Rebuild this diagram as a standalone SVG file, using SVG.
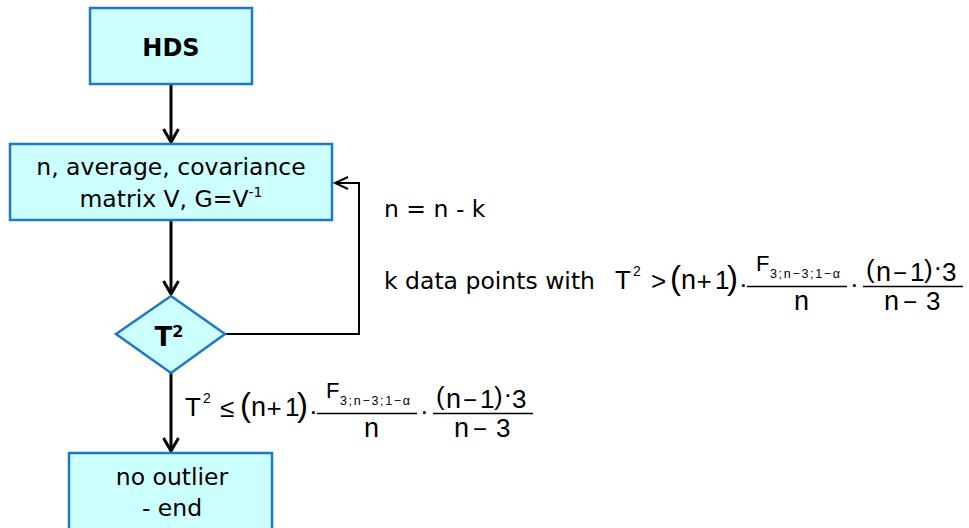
<svg xmlns="http://www.w3.org/2000/svg" width="969" height="528" viewBox="0 0 969 528">
<style>
.box{fill:#CCFFFF;stroke:#1E78C8;stroke-width:2.5}
.t{font-family:"DejaVu Sans","Verdana",sans-serif;font-size:23.5px;fill:#000}
.b{font-family:"DejaVu Sans","Verdana",sans-serif;font-size:24px;font-weight:bold;fill:#000}
.m{font-family:"Liberation Sans",Arial,sans-serif;font-size:26px;fill:#000}
.m12{font-size:12.5px}
.m14{font-size:14px}
.m22{font-size:22px}
.m24{font-size:24px}
.m27{font-size:27px}
.m33{font-size:33px}
.main{stroke:#000;stroke-width:3;fill:none}
.fb{stroke:#000;stroke-width:2;fill:none}
.bar{stroke:#000;stroke-width:1.4}
</style>
<defs>
<marker id="ah" markerUnits="userSpaceOnUse" markerWidth="20" markerHeight="20" refX="0" refY="0" viewBox="-16 -10 20 20" orient="auto">
<path d="M-13,-7.5 L0,0 L-13,7.5" fill="none" stroke="#000" stroke-width="3"/>
</marker>
<marker id="ah2" markerUnits="userSpaceOnUse" markerWidth="20" markerHeight="20" refX="0" refY="0" viewBox="-16 -10 20 20" orient="auto">
<path d="M-13,-6 L0,0 L-13,6" fill="none" stroke="#000" stroke-width="2"/>
</marker>
<g id="frac">
<text class="m" x="185" y="416">T</text>
<text class="m m14" x="203" y="403">2</text>
<text class="m m33" x="240" y="416">(</text>
<text class="m m27" x="251" y="416">n</text>
<text class="m" x="266.5" y="417">+</text>
<text class="m" x="285" y="416">1</text>
<text class="m m33" x="297" y="416">)</text>
<text class="m" x="309" y="420">·</text>
<line class="bar" x1="317" y1="413.5" x2="417" y2="413.5"/>
<text class="m m22" x="326" y="398">F</text>
<text class="m m12" x="340" y="405" textLength="70" lengthAdjust="spacing">3;n−3;1−α</text>
<text class="m m27" x="364" y="437">n</text>
<text class="m" x="420" y="420">·</text>
<line class="bar" x1="433" y1="413.5" x2="533" y2="413.5"/>
<text class="m" x="436" y="405">(</text>
<text class="m m27" x="446" y="408">n</text>
<text class="m m24" x="463" y="408">−</text>
<text class="m" x="480" y="408">1</text>
<text class="m" x="494" y="405">)</text>
<text class="m" x="503.5" y="403">·</text>
<text class="m" x="512" y="408">3</text>
<text class="m m27" x="454" y="437">n</text>
<text class="m m24" x="473" y="437">−</text>
<text class="m" x="496" y="437">3</text>
</g>
</defs>
<g id="connectors">
<line class="main" x1="171" y1="84" x2="171" y2="142" marker-end="url(#ah)"/>
<line class="main" x1="171" y1="220" x2="171" y2="294" marker-end="url(#ah)"/>
<line class="main" x1="171" y1="373" x2="171" y2="451" marker-end="url(#ah)"/>
<polyline class="fb" points="225,334 359,334 359,183 335,183" marker-end="url(#ah2)"/>
</g>
<g id="hds">
<rect class="box" x="90" y="8" width="162" height="76"/>
<text class="b" x="171" y="56" text-anchor="middle">HDS</text>
</g>
<g id="stats">
<rect class="box" x="10" y="144" width="322" height="76"/>
<text class="t" x="171" y="175" text-anchor="middle">n, average, covariance</text>
<text class="t" x="171" y="207" text-anchor="middle">matrix V, G=V<tspan style="font-size:14px" dy="-10">-1</tspan></text>
</g>
<g id="decision">
<polygon class="box" points="171,296 225,334 171,373 116,334"/>
<text class="b" x="169" y="346" text-anchor="middle" style="font-size:26px">T<tspan style="font-size:16px" dy="-9">2</tspan></text>
</g>
<g id="end">
<rect class="box" x="69" y="453" width="203" height="90"/>
<text class="t" x="172" y="485" text-anchor="middle">no outlier</text>
<text class="t" x="172" y="516" text-anchor="middle">- end</text>
</g>
<g id="label-loop">
<text class="t" x="384" y="217">n = n - k</text>
<text class="t" x="384" y="289">k data points with</text>
<g transform="translate(430,-127)">
<use href="#frac"/>
<text class="m" x="221" y="417">&gt;</text>
</g>
</g>
<g id="label-exit">
<use href="#frac"/>
<text class="m" x="220" y="417">≤</text>
</g>
</svg>
